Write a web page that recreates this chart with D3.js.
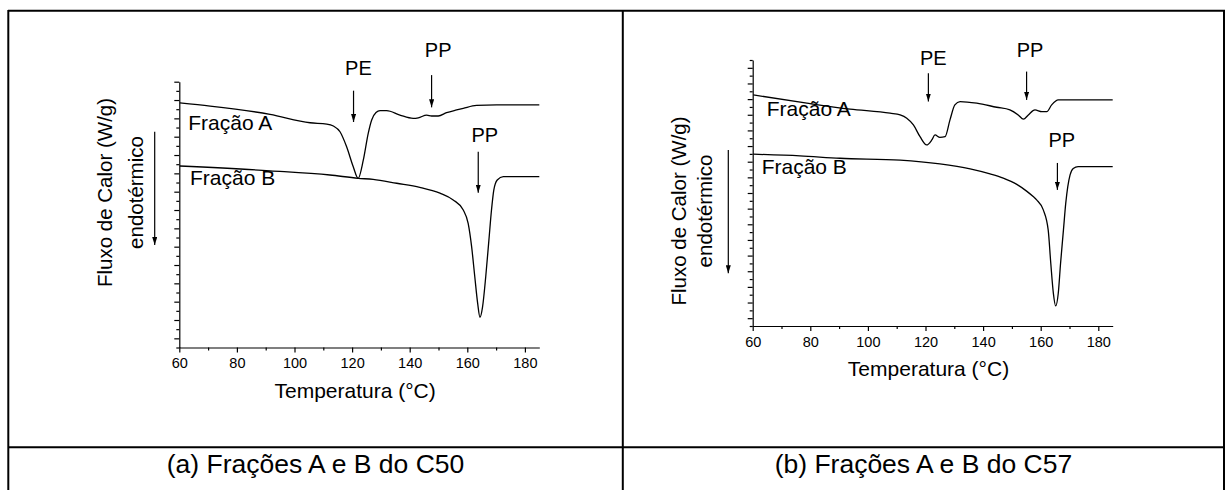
<!DOCTYPE html>
<html>
<head>
<meta charset="utf-8">
<script src="https://cdn.jsdelivr.net/npm/d3@7"></script>
<style>
body { margin: 0; background: #fff; }
svg text { font-family: "Liberation Sans", Arial, Helvetica, sans-serif; fill: #000; }
</style>
</head>
<body>
<div id="fig"></div>
<script>
// data (temperature in C, heat flow in arbitrary units, endo down)
var tempA50 = [60.2, 70.7, 91.5, 105.4, 111.2, 113.5, 115.8, 118.1, 120.4, 122.1, 123.9, 125.6, 126.8, 128.3, 129.7, 132.0, 136.6, 141.2, 143.0, 145.9, 147.6, 149.9, 152.8, 156.3, 158.6, 163.2, 170.2, 185];
var fluxA50 = [12.84, 12.67, 12.22, 11.76, 11.69, 11.58, 11.27, 10.45, 9.36, 8.73, 9.73, 11.18, 11.91, 12.32, 12.42, 12.42, 12.18, 12.0, 12.03, 12.18, 12.13, 12.13, 12.31, 12.46, 12.55, 12.71, 12.74, 12.74];
var tempB50 = [60.2, 91.5, 112.3, 122.1, 127.3, 135.5, 143.5, 150.5, 155.1, 158.6, 160.3, 161.5, 162.6, 163.6, 164.4, 165.3, 166.4, 167.5, 168.4, 169.2, 170.4, 172.5, 185];
var fluxB50 = [9.40, 9.14, 8.91, 8.73, 8.67, 8.46, 8.24, 7.92, 7.55, 7.0, 6.27, 5.0, 3.36, 1.91, 1.15, 1.72, 3.36, 5.36, 7.0, 8.09, 8.64, 8.82, 8.82];

var tempA57 = [60.2, 78.8, 93.8, 107.7, 111.2, 113.5, 115.8, 118.1, 120.4, 122.2, 123.3, 125.0, 126.8, 128.5, 130.2, 132.0, 137.8, 144.7, 149.3, 152.2, 154.0, 155.7, 158.0, 160.4, 162.1, 163.8, 166.1, 170.2, 185];
var fluxA57 = [14.27, 13.74, 13.36, 13.10, 12.99, 12.78, 12.35, 11.60, 11.07, 11.39, 11.71, 11.55, 11.60, 12.67, 13.63, 13.84, 13.74, 13.48, 13.31, 12.99, 12.72, 12.99, 13.31, 13.20, 13.20, 13.63, 13.95, 13.95, 13.95];
var tempB57 = [60.2, 76.4, 90.3, 111.2, 125.0, 135.5, 142.4, 147.0, 151.7, 155.1, 157.4, 158.6, 160.9, 162.6, 163.5, 164.4, 165.2, 166.1, 166.9, 167.9, 168.7, 169.4, 170.2, 171.3, 173.0, 185];
var fluxB57 = [10.48, 10.37, 10.22, 10.10, 9.86, 9.54, 9.22, 8.95, 8.55, 8.12, 7.77, 7.56, 6.92, 5.64, 3.51, 1.59, 0.78, 1.59, 3.51, 5.64, 7.35, 8.41, 9.16, 9.57, 9.69, 9.69];

var xTicksMajor = [60, 80, 100, 120, 140, 160, 180];
var xTicksMinor = [70, 90, 110, 130, 150, 170];

// annotations: label, arrow x (C), arrow from/to (flux), text x, text y
var notes50 = [
  {label: "PE", t: 120.5, y1: 13.51, y2: 11.80, tx: 122.2, ty: 14.36},
  {label: "PP", t: 147.6, y1: 14.36, y2: 12.60, tx: 149.9, ty: 15.36},
  {label: "PP", t: 163.8, y1: 10.18, y2: 7.94, tx: 166.1, ty: 10.73}
];
var notes57 = [
  {label: "PE", t: 121.0, y1: 15.65, y2: 13.84, tx: 122.7, ty: 16.19},
  {label: "PP", t: 155.1, y1: 15.76, y2: 13.95, tx: 156.3, ty: 16.72},
  {label: "PP", t: 165.8, y1: 9.92, y2: 8.20, tx: 167.3, ty: 10.97}
];
var seriesLabels50 = [{label: "Fração A", t: 63.1, v: 11.36}, {label: "Fração B", t: 63.7, v: 8.36}];
var seriesLabels57 = [{label: "Fração A", t: 64.9, v: 12.93}, {label: "Fração B", t: 63.1, v: 9.20}];

var captions = ["(a) Frações A e B do C50", "(b) Frações A e B do C57"];

var W = 1225, H = 490;
var svg = d3.select("#fig").append("svg")
  .attr("width", W).attr("height", H)
  .attr("viewBox", [0, 0, W, H]);

svg.append("defs").append("marker")
  .attr("id", "head")
  .attr("markerUnits", "userSpaceOnUse")
  .attr("viewBox", "0 0 8 5")
  .attr("refX", 8).attr("refY", 2.5)
  .attr("markerWidth", 8).attr("markerHeight", 5)
  .attr("orient", "auto")
  .append("path").attr("d", "M0,0 L8,2.5 L0,5 z").attr("fill", "#000");

// table frame
var frame = svg.append("g").attr("stroke", "#000").attr("stroke-width", 2);
frame.append("line").attr("x1", 8).attr("x2", W).attr("y1", 10.7).attr("y2", 10.7);
frame.append("line").attr("x1", 8).attr("x2", W).attr("y1", 447.3).attr("y2", 447.3);
frame.append("line").attr("x1", 8.3).attr("x2", 8.3).attr("y1", 10).attr("y2", H);
frame.append("line").attr("x1", 622.8).attr("x2", 622.8).attr("y1", 10).attr("y2", H);
frame.append("line").attr("x1", 1224).attr("x2", 1224).attr("y1", 10).attr("y2", H);

svg.selectAll(".caption")
  .data(captions)
  .join("text")
  .attr("class", "caption")
  .attr("x", (d, i) => i == 0 ? 315.5 : 923.4)
  .attr("y", 473)
  .attr("text-anchor", "middle")
  .style("font-size", "26.5px")
  .text(d => d);

var panels = [
  {xr: [179.3, 539.3], yr: [347.5, 81.7], yd: [-0.5, 14],
   A: [tempA50, fluxA50], B: [tempB50, fluxB50], notes: notes50, labels: seriesLabels50,
   xTitleY: 398.3, tickY: 368, yTitle: [112.4, 143], yTitleC: 192.5, arrowX: 154.7, arrowY: [131.7, 245]},
  {xr: [752.7, 1112.7], yr: [326, 60], yd: [-0.5, 16.5],
   A: [tempA57, fluxA57], B: [tempB57, fluxB57], notes: notes57, labels: seriesLabels57,
   xTitleY: 376, tickY: 346.7, yTitle: [685.5, 711.5], yTitleC: 211, arrowX: 728.3, arrowY: [150, 273.3]}
];

panels.forEach(drawPanel);

function drawPanel(p) {
  var x = d3.scaleLinear().domain([60, 185]).range(p.xr);
  var y = d3.scaleLinear().domain(p.yd).range(p.yr);
  var g = svg.append("g");
  var x0 = p.xr[0], yb = p.yr[0];

  // x axis
  var xa = g.append("g").attr("transform", `translate(0,${yb})`)
    .call(d3.axisBottom(x).tickValues(xTicksMajor).tickSize(5).tickSizeOuter(0).tickPadding(3));
  g.append("g").attr("transform", `translate(0,${yb})`)
    .call(d3.axisBottom(x).tickValues(xTicksMinor).tickSize(3).tickFormat(""))
    .call(a => a.select(".domain").remove());
  xa.selectAll("text").style("font-size", "14.5px").attr("font-family", null)
    .attr("dy", null).attr("y", p.tickY - yb);

  // y axis
  var yMajor = d3.range(0, p.yd[1] + 0.01, 1);
  var yMinor = d3.range(p.yd[0], p.yd[1] + 0.01, 1);
  g.append("g").attr("transform", `translate(${x0},0)`)
    .call(d3.axisLeft(y).tickValues(yMajor).tickSize(5).tickSizeOuter(0).tickFormat(""));
  g.append("g").attr("transform", `translate(${x0},0)`)
    .call(d3.axisLeft(y).tickValues(yMinor).tickSize(3).tickFormat(""))
    .call(a => a.select(".domain").remove());
  g.selectAll(".domain, .tick line").attr("stroke", "#000").attr("stroke-width", 1.2);

  // curves
  var line = d3.line()
    .x(d => x(d[0]))
    .y(d => y(d[1]))
    .curve(d3.curveMonotoneX);
  [p.A, p.B].forEach(function(s) {
    var pts = s[0].map((t, i) => [t, s[1][i]]);
    g.append("path").datum(pts)
      .attr("d", line)
      .attr("fill", "none")
      .attr("stroke", "#000")
      .attr("stroke-width", 1.3);
  });

  // series labels
  g.selectAll(".lbl").data(p.labels).join("text")
    .attr("x", d => x(d.t)).attr("y", d => y(d.v))
    .style("font-size", "21px")
    .text(d => d.label);

  // peak arrows
  g.selectAll(".arr").data(p.notes).join("line")
    .attr("x1", d => x(d.t)).attr("x2", d => x(d.t))
    .attr("y1", d => y(d.y1)).attr("y2", d => y(d.y2))
    .attr("stroke", "#000").attr("stroke-width", 1.2)
    .attr("marker-end", "url(#head)");
  g.selectAll(".note").data(p.notes).join("text")
    .attr("x", d => x(d.tx)).attr("y", d => y(d.ty))
    .attr("text-anchor", "middle")
    .style("font-size", "20px")
    .text(d => d.label);

  // axis titles
  g.append("text")
    .attr("x", (p.xr[0] + x(180)) / 2 + 3)
    .attr("y", p.xTitleY)
    .attr("text-anchor", "middle")
    .style("font-size", "21px")
    .text("Temperatura (°C)");

  var yt = g.append("text")
    .attr("transform", `translate(0,${p.yTitleC}) rotate(-90)`)
    .attr("text-anchor", "middle")
    .style("font-size", "20.5px");
  yt.append("tspan").attr("x", 0).attr("y", p.yTitle[0]).text("Fluxo de Calor (W/g)");
  yt.append("tspan").attr("x", 0).attr("y", p.yTitle[1]).text("endotérmico");

  g.append("line")
    .attr("x1", p.arrowX).attr("x2", p.arrowX)
    .attr("y1", p.arrowY[0]).attr("y2", p.arrowY[1])
    .attr("stroke", "#000").attr("stroke-width", 1.2)
    .attr("marker-end", "url(#head)");
}
</script>
</body>
</html>
